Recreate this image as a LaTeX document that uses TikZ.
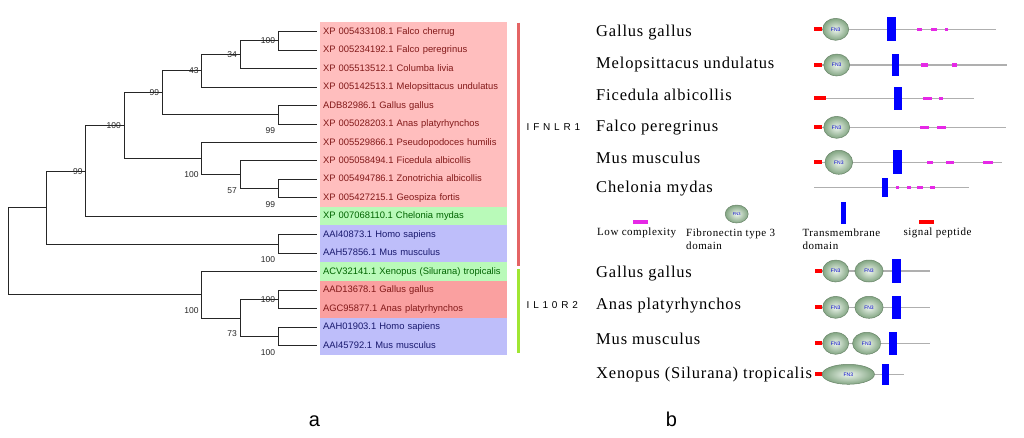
\documentclass[tikz,border=0pt]{standalone}
\usepackage{fontspec}
\setmainfont{Liberation Serif}
\setsansfont{Liberation Sans}
\newfontfamily\cladefont[LetterSpace=38]{Liberation Sans}
\newfontfamily\taxonfont[LetterSpace=5]{Liberation Serif}
\usetikzlibrary{positioning,shapes.geometric}
\definecolor{pinkbg}{RGB}{255,190,190}
\definecolor{greenbg}{RGB}{185,250,185}
\definecolor{bluebg}{RGB}{190,190,250}
\definecolor{redbg}{RGB}{250,160,160}
\definecolor{redtxt}{RGB}{130,25,25}
\definecolor{greentxt}{RGB}{0,100,0}
\definecolor{bluetxt}{RGB}{25,25,110}
\definecolor{ifnbar}{RGB}{228,100,100}
\definecolor{ilbar}{RGB}{160,230,50}
\definecolor{fnlight}{RGB}{238,246,238}
\definecolor{fndark}{RGB}{130,165,130}
\definecolor{backbone}{RGB}{175,175,175}
\definecolor{lowpink}{RGB}{230,40,230}
\begin{document}
\begin{tikzpicture}[x=1pt, y=-1pt, font=\sffamily,
      branch/.style={line width=1pt, black!85},
      twig/.style={branch, shorten >=3pt},
      leaf/.style={anchor=west, minimum height=18.9pt, text width=181pt, inner sep=2.8pt,
        text height=7pt, text depth=2pt, font=\sffamily\fontsize{9.4}{10}\selectfont},
      boot/.style={inner sep=0.5pt, black!85, font=\sffamily\fontsize{8.5}{9}\selectfont},
      clade/.style={anchor=west, inner sep=0pt, font=\cladefont\fontsize{10}{11}\selectfont},
      taxon/.style={anchor=base west, inner sep=0pt, font=\taxonfont\fontsize{16.5}{18}\selectfont},
      legend/.style={align=left, inner sep=0pt, font=\taxonfont\fontsize{11}{13.3}\selectfont},
      bbone/.style={backbone, line width=1.4pt},
      fn3/.style={ellipse, draw=fndark!80!black, line width=0.5pt, inner color=fnlight, outer color=fndark,
        minimum width=26pt, minimum height=22pt, inner sep=0pt, text=blue!80!black,
        font=\sffamily\fontsize{5}{5}\selectfont},
      sig/.style={fill=red},
      tm/.style={fill=blue},
      lowc/.style={fill=lowpink}]
    \useasboundingbox (0,0) rectangle (1024,437);
    % panel a: tree
    \begin{scope}
      \node[leaf, fill=pinkbg, text=redtxt] (t0) at (320,31.7) {XP 005433108.1 Falco cherrug};
      \node[leaf, fill=pinkbg, text=redtxt] (t1) at (320,50.17) {XP 005234192.1 Falco peregrinus};
      \node[leaf, fill=pinkbg, text=redtxt] (t2) at (320,68.64) {XP 005513512.1 Columba livia};
      \node[leaf, fill=pinkbg, text=redtxt] (t3) at (320,87.11) {XP 005142513.1 Melopsittacus undulatus};
      \node[leaf, fill=pinkbg, text=redtxt] (t4) at (320,105.58) {ADB82986.1 Gallus gallus};
      \node[leaf, fill=pinkbg, text=redtxt] (t5) at (320,124.05) {XP 005028203.1 Anas platyrhynchos};
      \node[leaf, fill=pinkbg, text=redtxt] (t6) at (320,142.52) {XP 005529866.1 Pseudopodoces humilis};
      \node[leaf, fill=pinkbg, text=redtxt] (t7) at (320,160.99) {XP 005058494.1 Ficedula albicollis};
      \node[leaf, fill=pinkbg, text=redtxt] (t8) at (320,179.46) {XP 005494786.1 Zonotrichia albicollis};
      \node[leaf, fill=pinkbg, text=redtxt] (t9) at (320,197.93) {XP 005427215.1 Geospiza fortis};
      \node[leaf, fill=greenbg, text=greentxt] (t10) at (320,216.4) {XP 007068110.1 Chelonia mydas};
      \node[leaf, fill=bluebg, text=bluetxt] (t11) at (320,234.87) {AAI40873.1 Homo sapiens};
      \node[leaf, fill=bluebg, text=bluetxt] (t12) at (320,253.34) {AAH57856.1 Mus musculus};
      \node[leaf, fill=greenbg, text=greentxt] (t13) at (320,271.81) {ACV32141.1 Xenopus (Silurana) tropicalis};
      \node[leaf, fill=redbg, text=redtxt] (t14) at (320,290.28) {AAD13678.1 Gallus gallus};
      \node[leaf, fill=redbg, text=redtxt] (t15) at (320,308.75) {AGC95877.1 Anas platyrhynchos};
      \node[leaf, fill=bluebg, text=bluetxt] (t16) at (320,327.22) {AAH01903.1 Homo sapiens};
      \node[leaf, fill=bluebg, text=bluetxt] (t17) at (320,345.69) {AAI45792.1 Mus musculus};

      \coordinate (n1) at (278.3,40.9);
      \coordinate (n2) at (240,54.8);
      \coordinate (n3) at (201.7,70.9);
      \coordinate (n4) at (278.3,114.8);
      \coordinate (n5) at (162.3,92.9);
      \coordinate (n6) at (278.3,188.7);
      \coordinate (n7) at (240,174.8);
      \coordinate (n8) at (201.7,158.7);
      \coordinate (n9) at (124,125.8);
      \coordinate (n10) at (85.7,171.1);
      \coordinate (n11) at (278.3,244.1);
      \coordinate (n12) at (46.7,207.6);
      \coordinate (n13) at (278.3,299.5);
      \coordinate (n14) at (278.3,336.5);
      \coordinate (n15) at (240,318);
      \coordinate (n16) at (201.7,294.9);
      \coordinate (root) at (8.3,251.3);

      \draw[twig] (n1) |- (t0.west);
      \draw[twig] (n1) |- (t1.west);
      \draw[branch] (n2) |- (n1);
      \draw[twig] (n2) |- (t2.west);
      \draw[branch] (n3) |- (n2);
      \draw[twig] (n3) |- (t3.west);
      \draw[twig] (n4) |- (t4.west);
      \draw[twig] (n4) |- (t5.west);
      \draw[branch] (n5) |- (n3);
      \draw[branch] (n5) |- (n4);
      \draw[twig] (n6) |- (t8.west);
      \draw[twig] (n6) |- (t9.west);
      \draw[twig] (n7) |- (t7.west);
      \draw[branch] (n7) |- (n6);
      \draw[twig] (n8) |- (t6.west);
      \draw[branch] (n8) |- (n7);
      \draw[branch] (n9) |- (n5);
      \draw[branch] (n9) |- (n8);
      \draw[branch] (n10) |- (n9);
      \draw[twig] (n10) |- (t10.west);
      \draw[twig] (n11) |- (t11.west);
      \draw[twig] (n11) |- (t12.west);
      \draw[branch] (n12) |- (n10);
      \draw[branch] (n12) |- (n11);
      \draw[twig] (n13) |- (t14.west);
      \draw[twig] (n13) |- (t15.west);
      \draw[twig] (n14) |- (t16.west);
      \draw[twig] (n14) |- (t17.west);
      \draw[branch] (n15) |- (n13);
      \draw[branch] (n15) |- (n14);
      \draw[twig] (n16) |- (t13.west);
      \draw[branch] (n16) |- (n15);
      \draw[branch] (root) |- (n12);
      \draw[branch] (root) |- (n16);

      % bootstrap values
      \node[boot, left=2.5pt of n1] {100};
      \node[boot, left=2.5pt of n2] {34};
      \node[boot, left=2.5pt of n3] {43};
      \node[boot, below left=12pt and 2.5pt of n4] {99};
      \node[boot, left=2.5pt of n5] {99};
      \node[boot, below left=12pt and 2.5pt of n6] {99};
      \node[boot, below left=12pt and 2.5pt of n7] {57};
      \node[boot, below left=12pt and 2.5pt of n8] {100};
      \node[boot, left=2.5pt of n9] {100};
      \node[boot, left=2.5pt of n10] {99};
      \node[boot, below left=12pt and 2.5pt of n11] {100};
      \node[boot, left=2.5pt of n13] {100};
      \node[boot, below left=12pt and 2.5pt of n14] {100};
      \node[boot, below left=12pt and 2.5pt of n15] {73};
      \node[boot, below left=12pt and 2.5pt of n16] {100};

      \draw[line width=3pt, ifnbar] (518,22.7) -- (518,266);
      \draw[line width=3pt, ilbar] (518,269.3) -- (518,353.3);
      \node[clade] (ifnlr) at (526.5,127) {IFNLR1};
      \node[clade] (ilr) at (526.5,305) {IL10R2};
      \node[font=\sffamily\fontsize{20}{24}\selectfont, anchor=base] (pa) at (314.5,426) {a};
    \end{scope}
    % panel b: domains
    \begin{scope}
      \node[taxon] (g1) at (596,36.7) {Gallus gallus};
      \node[taxon] (g2) at (596,68.5) {Melopsittacus undulatus};
      \node[taxon] (g3) at (596,100.5) {Ficedula albicollis};
      \node[taxon] (g4) at (596,131.7) {Falco peregrinus};
      \node[taxon] (g5) at (596,163.3) {Mus musculus};
      \node[taxon] (g6) at (596,192.7) {Chelonia mydas};
      \node[taxon] (h1) at (596,277.3) {Gallus gallus};
      \node[taxon] (h2) at (596,309.3) {Anas platyrhynchos};
      \node[taxon] (h3) at (596,344) {Mus musculus};
      \node[taxon] (h4) at (596,378.3) {Xenopus (Silurana) tropicalis};

      % Gallus gallus
      \draw[bbone] (821.7,29.3) -- (996,29.3);
      \fill[sig] (814.3,27.3) rectangle (821.7,31.3);
      \node[fn3] at (835.7,29.3) {FN3};
      \fill[tm] (887.3,17.3) rectangle (895.7,40.7);
      \fill[lowc] (916.7,27.5) rectangle (922.3,31.1);
      \fill[lowc] (931,27.5) rectangle (937.3,31.1);
      \fill[lowc] (945,27.5) rectangle (947.7,31.1);
      % Melopsittacus undulatus
      \draw[bbone] (821.7,65) -- (1006.7,65);
      \fill[sig] (814.3,63) rectangle (821.7,67);
      \node[fn3] at (836.7,65) {FN3};
      \fill[tm] (891.7,54) rectangle (899.3,76);
      \fill[lowc] (920.7,63.2) rectangle (928.3,66.8);
      \fill[lowc] (952.3,63.2) rectangle (957.3,66.8);
      % Ficedula albicollis
      \draw[bbone] (826,98.3) -- (974.3,98.3);
      \fill[sig] (814.3,96.3) rectangle (826,100.3);
      \fill[tm] (894.3,86.7) rectangle (902.3,110);
      \fill[lowc] (922.7,96.5) rectangle (931.7,100.1);
      \fill[lowc] (939.3,96.5) rectangle (943.3,100.1);
      % Falco peregrinus
      \draw[bbone] (821.7,127.3) -- (1006,127.3);
      \fill[sig] (814.3,125.3) rectangle (821.7,129.3);
      \node[fn3] at (836.7,127.3) {FN3};
      \fill[lowc] (920,125.5) rectangle (929.3,129.1);
      \fill[lowc] (937.3,125.5) rectangle (946,129.1);
      % Mus musculus
      \draw[bbone] (821.7,162.3) -- (1002.3,162.3);
      \fill[sig] (814.3,160.3) rectangle (821.7,164.3);
      \node[fn3, minimum width=27.7pt, minimum height=24pt] at (838.8,162.3) {FN3};
      \fill[tm] (893.3,150) rectangle (902.3,174);
      \fill[lowc] (926.7,160.5) rectangle (933.3,164.1);
      \fill[lowc] (946,160.5) rectangle (954.3,164.1);
      \fill[lowc] (983.3,160.5) rectangle (992.7,164.1);
      % Chelonia mydas
      \draw[bbone] (814.3,187.7) -- (969,187.7);
      \fill[tm] (881.7,178.3) rectangle (888.3,197.3);
      \fill[lowc] (895.7,186) rectangle (899,189.4);
      \fill[lowc] (906.7,186) rectangle (910.7,189.4);
      \fill[lowc] (917.3,186) rectangle (923.3,189.4);
      \fill[lowc] (930,186) rectangle (935,189.4);

      % legend
      \fill[lowc] (632.7,220.3) rectangle (647.7,223.8);
      \node[legend, anchor=base west] (lglow) at (597,235.7) {Low complexity};
      \node[fn3, minimum width=23pt, minimum height=18pt, font=\sffamily\fontsize{4}{4}\selectfont] (lgfn) at (736.7,214) {FN3};
      \node[legend, anchor=north west] (lgfntext) at (686,228.2) {Fibronectin type 3\\domain};
      \fill[tm] (840.7,201.7) rectangle (846,224.3);
      \node[legend, anchor=north west] (lgtm) at (802.3,228.2) {Transmembrane\\domain};
      \fill[sig] (919.3,220) rectangle (934,224);
      \node[legend, anchor=base west] (lgsig) at (903.3,235.7) {signal peptide};

      % IL10R2 Gallus gallus
      \draw[bbone] (821.7,271) -- (930,271);
      \fill[sig] (815,269) rectangle (821.7,273);
      \node[fn3] at (835.7,271) {FN3};
      \node[fn3, minimum width=28.3pt] at (869,271) {FN3};
      \fill[tm] (892.3,259.3) rectangle (900.7,283.3);
      % IL10R2 Anas platyrhynchos
      \draw[bbone] (821.7,307.3) -- (930,307.3);
      \fill[sig] (815,305.3) rectangle (821.7,309.3);
      \node[fn3] at (835.7,307.3) {FN3};
      \node[fn3, minimum width=28.3pt] at (869,307.3) {FN3};
      \fill[tm] (892.3,295.7) rectangle (900.7,319.3);
      % IL10R2 Mus musculus
      \draw[bbone] (821.7,343.3) -- (930,343.3);
      \fill[sig] (815,341.3) rectangle (821.7,345.3);
      \node[fn3] at (835.7,343.3) {FN3};
      \node[fn3, minimum width=28.3pt] at (866.7,343.3) {FN3};
      \fill[tm] (889.3,331.7) rectangle (897,355);
      % IL10R2 Xenopus
      \draw[bbone] (821.7,374.3) -- (904.3,374.3);
      \fill[sig] (815,372.3) rectangle (821.7,376.3);
      \node[fn3, minimum width=52.3pt, minimum height=20pt] at (848.3,374.3) {FN3};
      \fill[tm] (881.7,364.3) rectangle (889.3,385);

      \node[font=\sffamily\fontsize{20}{24}\selectfont, anchor=base] (pb) at (671.5,426) {b};
    \end{scope}
  \end{tikzpicture}
\end{document}
